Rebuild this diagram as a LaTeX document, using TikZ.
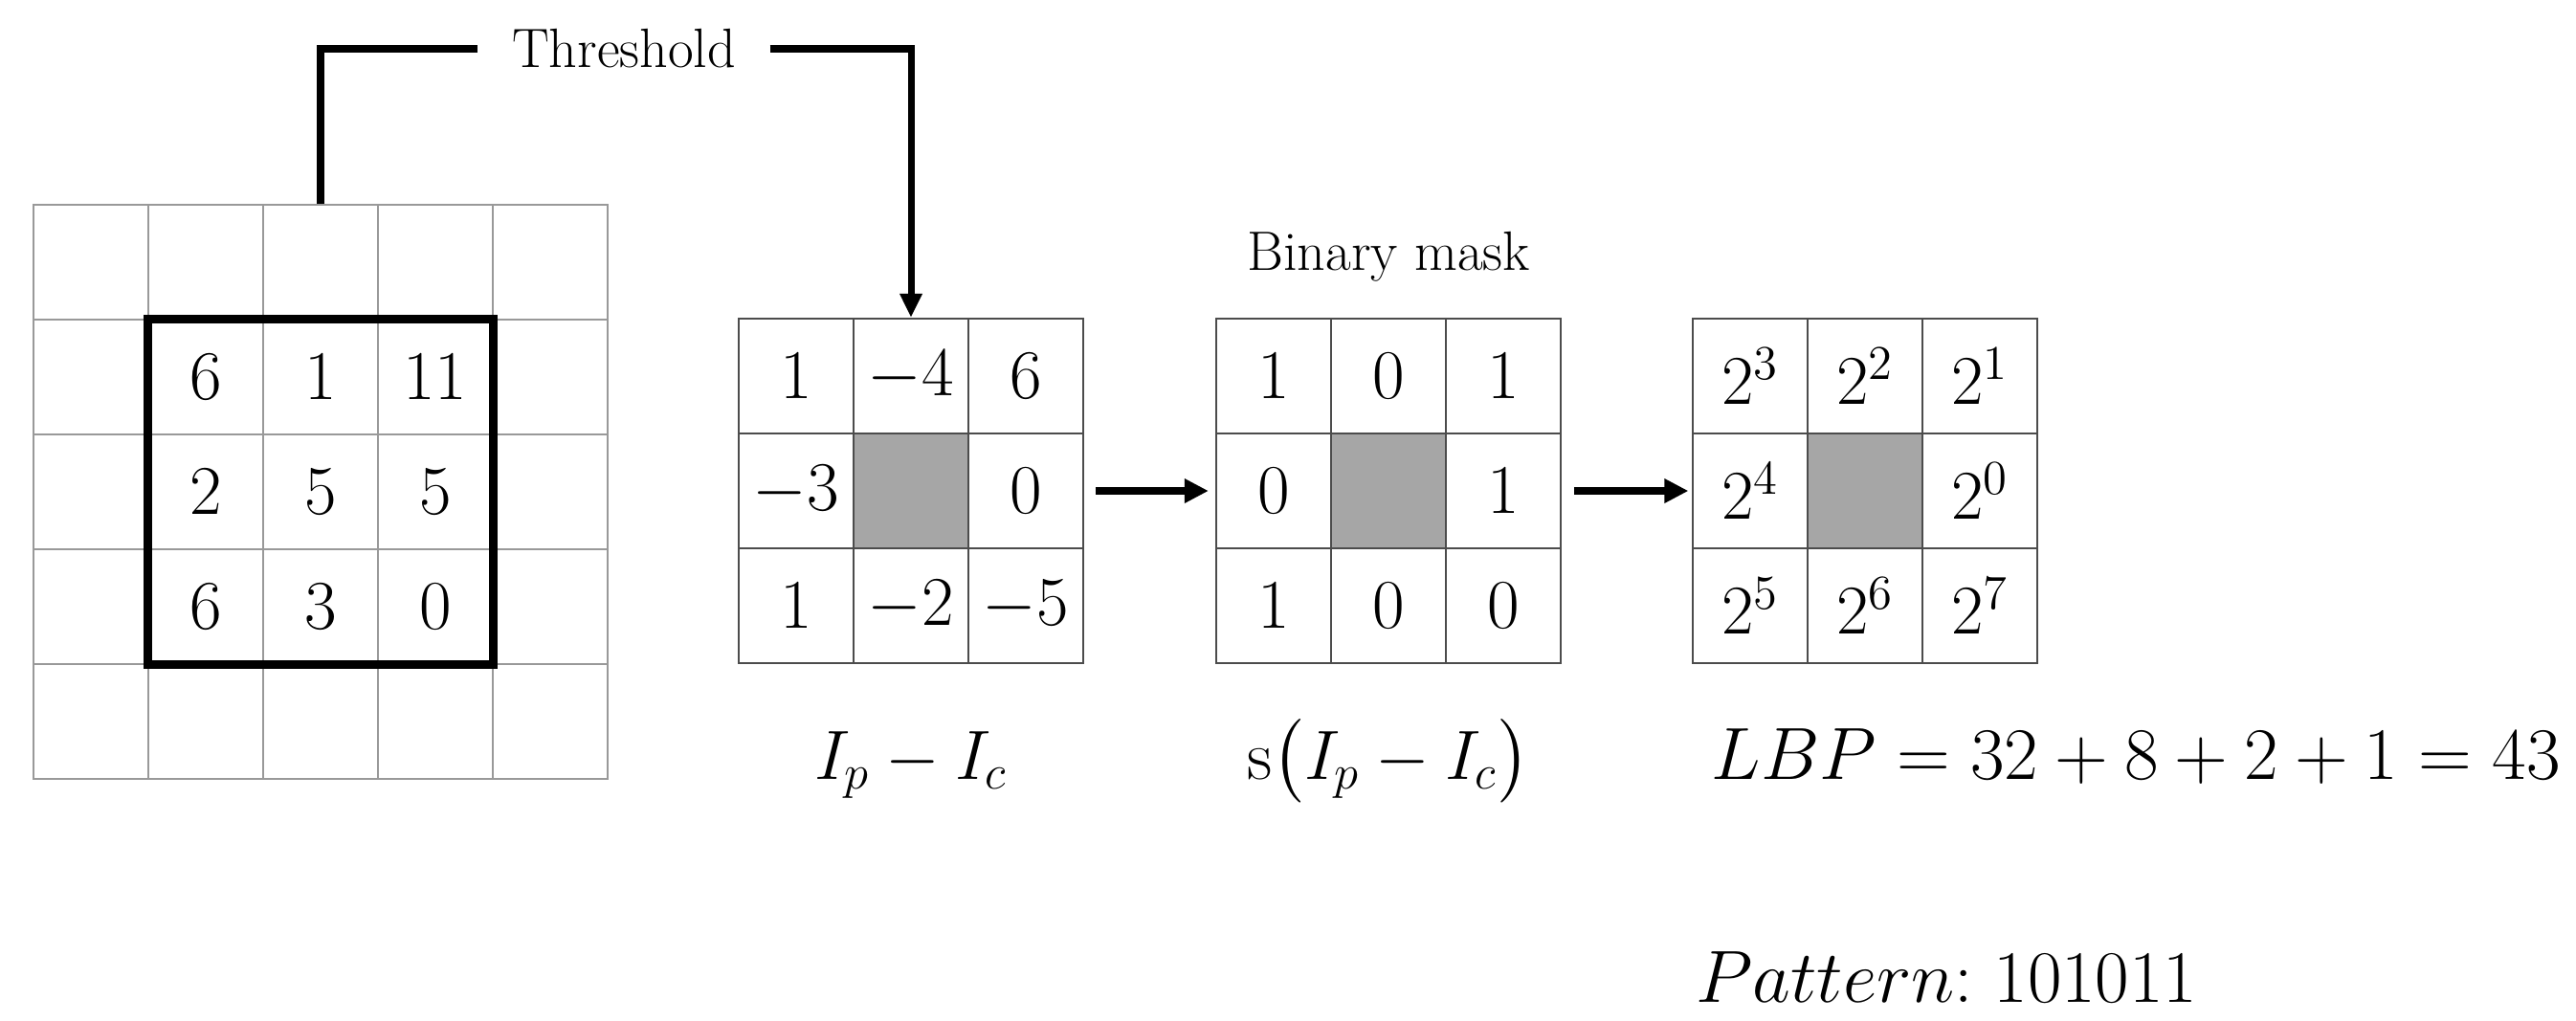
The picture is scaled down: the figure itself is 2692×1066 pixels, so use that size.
\documentclass[tikz,border=0pt]{standalone}
\usepackage{amsmath}
\usepackage{graphicx}
\usetikzlibrary{arrows.meta}
\begin{document}
\begin{tikzpicture}[x=0.01cm,y=-0.01cm,thin,
cell/.style = {draw=black!70, line width=0.6pt, minimum size=1.2cm, inner sep=0pt, font=\fontsize{21}{25}\selectfont},
img cell/.style = {cell, draw=black!40, line width=0.35pt},
centre cell/.style = {cell, fill=black!35},
label text/.style = {font=\fontsize{16.5}{20}\selectfont},
formula/.style = {font=\fontsize{21}{25}\selectfont, inner sep=0pt},
flow/.style = {line width=2.5pt, -{Triangle[length=0.25cm,width=0.24cm]}}]

\useasboundingbox (0,0) rectangle (2692,1066);

% image patch
\foreach \r in {1,...,5}
  \foreach \c in {1,...,5}
    \node[img cell] (g-\r-\c) at ({95+120*(\c-1)},{274+120*(\r-1)}) {};
\foreach \r/\c/\v in {2/2/6, 2/3/1, 2/4/11, 3/2/2, 3/3/5, 3/4/5, 4/2/6, 4/3/3, 4/4/0}
  \node[formula] (gv-\r-\c) at (g-\r-\c) {$\v$};
\draw[line width=2.4pt] (g-2-2.north west) rectangle (g-4-4.south east);

% differences
\foreach \r/\c/\v in {1/1/1, 1/2/-4, 1/3/6, 2/1/-3, 2/3/0, 3/1/1, 3/2/-2, 3/3/-5}
  \node[cell] (d-\r-\c) at ({832+120*(\c-1)},{393+120*(\r-1)}) {$\v$};
\node[centre cell] (d-2-2) at (952,513) {};

% binary mask
\foreach \r/\c/\v in {1/1/1, 1/2/0, 1/3/1, 2/1/0, 2/3/1, 3/1/1, 3/2/0, 3/3/0}
  \node[cell] (b-\r-\c) at ({1331+120*(\c-1)},{393+120*(\r-1)}) {$\v$};
\node[centre cell] (b-2-2) at (1451,513) {};

% weights
\foreach \r/\c/\v in {1/1/2^3, 1/2/2^2, 1/3/2^1, 2/1/2^4, 2/3/2^0, 3/1/2^5, 3/2/2^6, 3/3/2^7}
  \node[cell] (w-\r-\c) at ({1829+120*(\c-1)},{393+120*(\r-1)}) {$\v$};
\node[centre cell] (w-2-2) at (1949,513) {};

\node[label text, inner xsep=0.35cm] (thr) at (652,51) {Threshold};
\node[label text, anchor=base] (bm) at (1451,282) {Binary mask};

\node[formula, anchor=base] (dl) at (952,814) {$I_p - I_c$};
\node[formula, anchor=base] (bl) at (1451,814) {$\mathrm{s}\bigl(I_p - I_c\bigr)$};
\node[formula, anchor=base west] (lbp) at (1788,814) {\scalebox{1.06}{$LBP = 32 + 8 + 2 + 1 = 43$}};
\node[formula, anchor=base west] (pat) at (1772,1047) {\scalebox{1.06}{$Pattern{:}\;101011$}};

\draw[line width=2pt] (g-1-3.north) |- (thr.west);
\draw[line width=2pt, -{Triangle[length=0.25cm,width=0.22cm]}] (thr.east) -| (d-1-2.north);
\draw[flow, shorten <=3.4pt, shorten >=2pt] (d-2-3) -- (b-2-1);
\draw[flow, shorten <=3.6pt, shorten >=1pt] (b-2-3) -- (w-2-1);
\end{tikzpicture}
\end{document}
